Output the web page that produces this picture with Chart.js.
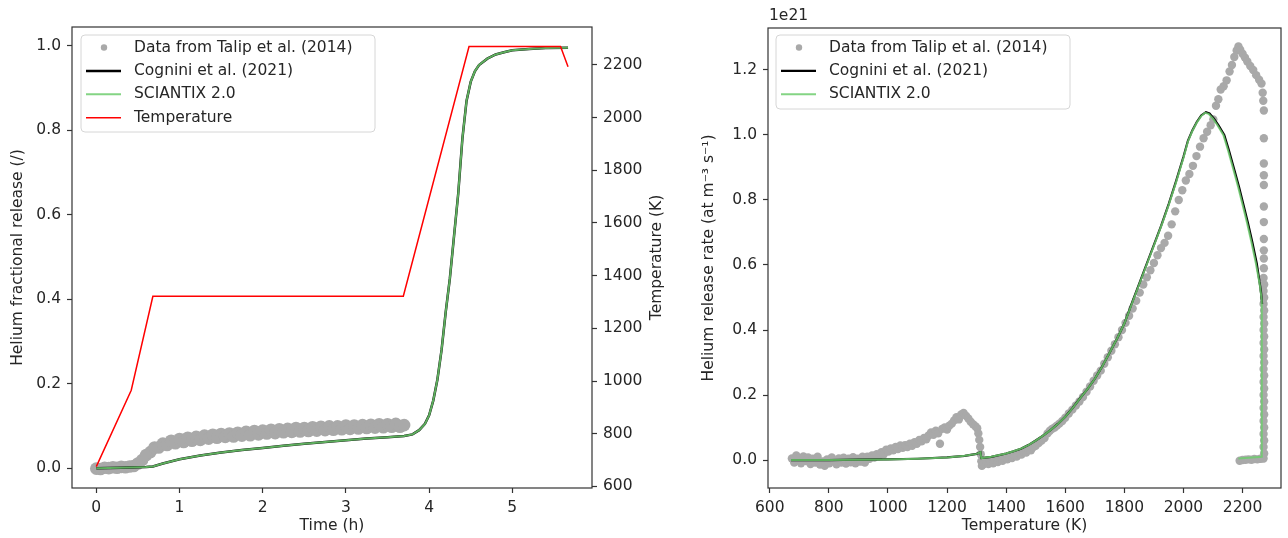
<!DOCTYPE html>
<html>
<head>
<meta charset="utf-8">
<script src="https://cdn.jsdelivr.net/npm/chart.js@4.4.1/dist/chart.umd.min.js"></script>
<style>
  html, body { margin: 0; padding: 0; background: #fff; }
  #wrap { position: relative; width: 1288px; height: 538px; }
  canvas { position: absolute; top: 0; }
  #left { left: 0; width: 690px; height: 538px; }
  #right { left: 690px; width: 598px; height: 538px; }
</style>
</head>
<body>
<div id="wrap">
  <canvas id="left" width="690" height="538"></canvas>
  <canvas id="right" width="598" height="538"></canvas>
</div>
<script>
// ---- left panel: fractional release vs time ----
const timeTicks = [0, 1, 2, 3, 4, 5];
const fracTicks = [0, 0.2, 0.4, 0.6, 0.8, 1.0];
const tempTicks = [600, 800, 1000, 1200, 1400, 1600, 1800, 2000, 2200];

const talipTime = [
  0.00, 0.05, 0.10, 0.15, 0.20, 0.25, 0.30, 0.35, 0.40, 0.45,
  0.50, 0.55, 0.60, 0.65, 0.70, 0.75, 0.80, 0.85, 0.90, 0.95,
  1.00, 1.05, 1.10, 1.15, 1.20, 1.25, 1.30, 1.35, 1.40, 1.45,
  1.50, 1.55, 1.60, 1.65, 1.70, 1.75, 1.80, 1.85, 1.90, 1.95,
  2.00, 2.05, 2.10, 2.15, 2.20, 2.25, 2.30, 2.35, 2.40, 2.45,
  2.50, 2.55, 2.60, 2.65, 2.70, 2.75, 2.80, 2.85, 2.90, 2.95,
  3.00, 3.05, 3.10, 3.15, 3.20, 3.25, 3.30, 3.35, 3.40, 3.45,
  3.50, 3.55, 3.60, 3.65, 3.70
];
const talipFrac = [
  -0.001, -0.002, 0.001, 0.000, 0.002, 0.001, 0.003, 0.002, 0.004, 0.005,
  0.011, 0.019, 0.031, 0.038, 0.049, 0.049, 0.058, 0.055, 0.065, 0.059,
  0.069, 0.062, 0.072, 0.065, 0.074, 0.067, 0.077, 0.070, 0.079, 0.072,
  0.081, 0.074, 0.082, 0.075, 0.084, 0.077, 0.086, 0.078, 0.088, 0.080,
  0.089, 0.082, 0.091, 0.083, 0.092, 0.085, 0.093, 0.086, 0.095, 0.087,
  0.095, 0.088, 0.097, 0.089, 0.098, 0.090, 0.099, 0.091, 0.099, 0.092,
  0.101, 0.093, 0.101, 0.094, 0.102, 0.095, 0.103, 0.096, 0.104, 0.097,
  0.104, 0.098, 0.105, 0.098, 0.102
];

const modelTime = [
  0, 0.3, 0.6, 0.68, 0.8, 1.0, 1.25, 1.5, 1.75, 2.0, 2.25, 2.5, 2.75, 3.0,
  3.25, 3.5, 3.7, 3.8, 3.88, 3.95, 4.0, 4.05, 4.1, 4.15, 4.2, 4.25, 4.3,
  4.35, 4.4, 4.45, 4.5, 4.55, 4.6, 4.7, 4.8, 4.9, 5.0, 5.2, 5.4, 5.67
];
const cogniniFrac = [
  0, 0.001, 0.003, 0.004, 0.011, 0.021, 0.030, 0.037, 0.043, 0.048, 0.053, 0.058, 0.062, 0.066,
  0.070, 0.073, 0.076, 0.080, 0.090, 0.105, 0.125, 0.160, 0.210, 0.280, 0.370, 0.450, 0.550,
  0.650, 0.780, 0.870, 0.915, 0.940, 0.955, 0.970, 0.980, 0.985, 0.990, 0.993, 0.995, 0.996
];
const sciantixFrac = [
  0, 0.001, 0.003, 0.004, 0.011, 0.021, 0.030, 0.037, 0.043, 0.048, 0.053, 0.058, 0.062, 0.066,
  0.070, 0.073, 0.076, 0.080, 0.090, 0.105, 0.125, 0.160, 0.210, 0.280, 0.370, 0.450, 0.550,
  0.650, 0.780, 0.870, 0.915, 0.940, 0.955, 0.970, 0.980, 0.985, 0.990, 0.993, 0.995, 0.996
];

const tempTime = [0, 0.42, 0.68, 3.69, 4.48, 5.58, 5.67];
const tempK = [675, 965, 1322, 1322, 2270, 2270, 2193];

// ---- right panel: release rate vs temperature (units of 1e21) ----
const rateTempTicks = [600, 800, 1000, 1200, 1400, 1600, 1800, 2000, 2200];
const rateTicks = [0, 0.2, 0.4, 0.6, 0.8, 1.0, 1.2];

const talipTK = [
  675, 683, 690, 698, 706, 714, 722, 730, 738, 746, 754, 762, 770, 778, 786, 794,
  802, 810, 818, 826, 834, 842, 850, 858, 866, 874, 882, 890, 898, 906, 914, 922,
  930, 938, 946, 954, 962, 970, 978, 986, 994, 1002, 1010, 1018, 1026, 1034, 1042, 1050,
  1058, 1066, 1074, 1082, 1090, 1098, 1106, 1114, 1122, 1130, 1138, 1146, 1154, 1162, 1170, 1176,
  1184, 1192, 1200, 1208, 1216, 1224, 1232, 1240, 1248, 1256, 1264, 1272, 1280, 1288, 1296, 1302,
  1306, 1309, 1312, 1314, 1316, 1318, 1324, 1332, 1340, 1348, 1356, 1364, 1372, 1380, 1388, 1396,
  1404, 1412, 1420, 1428, 1436, 1444, 1452, 1460, 1468, 1476, 1484, 1492, 1500, 1510, 1520, 1530,
  1540, 1548, 1556, 1564, 1572, 1580, 1590, 1600, 1612, 1624, 1636, 1648, 1660, 1672, 1684, 1696,
  1708, 1720, 1732, 1744, 1756, 1768, 1780, 1792, 1804, 1816, 1828, 1840, 1852, 1864, 1876, 1888,
  1900, 1912, 1924, 1936, 1948, 1960, 1972, 1984, 1996, 2008, 2020, 2032, 2044, 2056, 2068, 2080,
  2092, 2101, 2110, 2118, 2126, 2136, 2146, 2156, 2164, 2172, 2180, 2186, 2192, 2200, 2208, 2216,
  2226, 2236, 2246, 2256, 2264, 2268, 2270,
  2272, 2272, 2272, 2272, 2272, 2272, 2272, 2272, 2272, 2272, 2272,
  2271, 2273, 2271, 2273, 2271, 2273, 2271, 2273, 2271, 2273, 2271, 2273, 2271, 2273, 2271, 2273,
  2271, 2273, 2271, 2273, 2271, 2273, 2271, 2273, 2271, 2273, 2271, 2273, 2271,
  2190, 2200, 2210, 2220, 2230, 2240, 2250, 2260, 2268
];
const talipRate = [
  0.005, -0.008, 0.014, 0.002, -0.010, 0.011, -0.003, 0.008, -0.012, 0.004, -0.008, 0.010, -0.014, -0.004, -0.018, 0.002,
  -0.010, 0.008, -0.004, -0.013, 0.005, -0.008, 0.007, -0.011, 0.004, -0.007, 0.009, -0.010, 0.004, -0.005, 0.010, -0.008,
  0.010, 0.004, 0.014, 0.008, 0.018, 0.012, 0.024, 0.018, 0.032, 0.026, 0.036, 0.030, 0.040, 0.034, 0.045, 0.038,
  0.046, 0.040, 0.050, 0.044, 0.055, 0.050, 0.062, 0.058, 0.068, 0.064, 0.076, 0.085, 0.078, 0.090, 0.082, 0.050,
  0.096, 0.100, 0.094, 0.106, 0.112, 0.122, 0.132, 0.125, 0.140, 0.145, 0.136, 0.128, 0.118, 0.110, 0.104, 0.098,
  0.082, 0.062, 0.040, 0.018, -0.004, -0.018, -0.012, -0.006, -0.012, -0.004, -0.010, 0.000, -0.006, 0.003, -0.002, 0.006,
  0.002, 0.010, 0.006, 0.014, 0.011, 0.020, 0.017, 0.026, 0.023, 0.032, 0.030, 0.040, 0.044, 0.052, 0.060, 0.068,
  0.082, 0.090, 0.096, 0.100, 0.106, 0.112, 0.120, 0.130, 0.143, 0.155, 0.168, 0.180, 0.194, 0.210, 0.226, 0.244,
  0.260, 0.275, 0.296, 0.316, 0.336, 0.356, 0.378, 0.400, 0.422, 0.444, 0.466, 0.490, 0.515, 0.540, 0.562, 0.584,
  0.606, 0.630, 0.652, 0.668, 0.690, 0.725, 0.765, 0.800, 0.830, 0.860, 0.880, 0.905, 0.935, 0.964, 0.990, 1.010,
  1.030, 1.048, 1.090, 1.110, 1.140, 1.150, 1.168, 1.195, 1.215, 1.240, 1.260, 1.272, 1.262, 1.250, 1.238, 1.226,
  1.212, 1.200, 1.184, 1.170, 1.158, 1.130, 1.105,
  1.075, 0.990, 0.912, 0.876, 0.846, 0.780, 0.732, 0.680, 0.645, 0.620, 0.590,
  0.560, 0.540, 0.520, 0.500, 0.480, 0.460, 0.440, 0.420, 0.400, 0.380, 0.360, 0.340, 0.320, 0.300, 0.280, 0.260,
  0.240, 0.220, 0.200, 0.180, 0.160, 0.140, 0.120, 0.100, 0.080, 0.060, 0.040, 0.020, 0.005,
  -0.002, 0.000, 0.001, 0.002, 0.001, 0.003, 0.002, 0.004, 0.005
];

const cogniniTK = [
  672, 800, 900, 1000, 1100, 1200, 1260, 1300, 1313, 1316, 1350, 1400, 1425, 1450, 1475, 1500,
  1525, 1550, 1575, 1600, 1625, 1650, 1675, 1700, 1725, 1750, 1775, 1800, 1825, 1850, 1875, 1900,
  1925, 1950, 1975, 2000, 2015, 2030, 2045, 2060, 2076, 2088, 2103, 2118, 2138, 2153, 2173, 2188,
  2203, 2218, 2233, 2248, 2262, 2266
];
const cogniniRate = [
  0.000, 0.000, 0.001, 0.002, 0.004, 0.008, 0.013, 0.019, 0.024, 0.006, 0.010, 0.020, 0.027, 0.035, 0.046, 0.060,
  0.075, 0.092, 0.111, 0.133, 0.160, 0.190, 0.218, 0.250, 0.288, 0.330, 0.373, 0.420, 0.482, 0.542, 0.602, 0.662,
  0.722, 0.787, 0.858, 0.933, 0.982, 1.014, 1.040, 1.060, 1.070, 1.066, 1.050, 1.030, 1.000, 0.955, 0.890, 0.840,
  0.785, 0.730, 0.670, 0.605, 0.520, 0.480
];
const sciantixTK = [
  672, 800, 900, 1000, 1100, 1200, 1260, 1300, 1313, 1316, 1350, 1400, 1425, 1450, 1475, 1500,
  1525, 1550, 1575, 1600, 1625, 1650, 1675, 1700, 1725, 1750, 1775, 1800, 1825, 1850, 1875, 1900,
  1925, 1950, 1975, 2000, 2015, 2030, 2045, 2060, 2073, 2085, 2100, 2115, 2135, 2150, 2170, 2185,
  2200, 2215, 2230, 2245, 2259, 2265, 2265, 2186
];
const sciantixRate = [
  0.000, 0.000, 0.001, 0.002, 0.004, 0.008, 0.013, 0.019, 0.024, 0.006, 0.010, 0.020, 0.027, 0.035, 0.046, 0.060,
  0.075, 0.092, 0.111, 0.133, 0.160, 0.190, 0.218, 0.250, 0.288, 0.330, 0.373, 0.420, 0.480, 0.540, 0.600, 0.660,
  0.720, 0.785, 0.855, 0.930, 0.980, 1.012, 1.038, 1.058, 1.068, 1.065, 1.050, 1.030, 1.000, 0.955, 0.890, 0.840,
  0.785, 0.730, 0.670, 0.605, 0.535, 0.490, 0.010, 0.005
];

const GRAY = '#a9a9a9';
const GREEN = 'rgba(110, 205, 110, 0.85)';
const INK = '#262626';

Chart.defaults.font.family = '"DejaVu Sans", sans-serif';
Chart.defaults.font.size = 15.5;
Chart.defaults.color = INK;
Chart.defaults.animation = false;

const pts = (xs, ys) => xs.map((x, i) => ({ x: x, y: ys[i] }));

// frame, in-axes legend and the extra texts matplotlib puts around the axes
const deco = {
  id: 'deco',
  afterDraw(chart, args, o) {
    const ctx = chart.ctx, a = chart.chartArea;
    ctx.save();
    ctx.strokeStyle = '#333';
    ctx.lineWidth = 1.2;
    ctx.strokeRect(a.left, a.top, a.right - a.left, a.bottom - a.top);

    const L = o.legend;
    ctx.beginPath();
    ctx.roundRect(L.x, L.y, L.w, L.h, 4);
    ctx.fillStyle = 'rgba(255,255,255,0.8)';
    ctx.fill();
    ctx.strokeStyle = '#d6d6d6';
    ctx.lineWidth = 1;
    ctx.stroke();
    ctx.font = '15.5px "DejaVu Sans"';
    ctx.textBaseline = 'middle';
    chart.data.datasets.forEach((d, i) => {
      const y = L.y + 12.5 + i * 23.4;
      if (d.showLine) {
        ctx.strokeStyle = d.borderColor;
        ctx.lineWidth = d.borderWidth;
        ctx.beginPath();
        ctx.moveTo(L.x + 5, y);
        ctx.lineTo(L.x + 40, y);
        ctx.stroke();
      } else {
        ctx.fillStyle = GRAY;
        ctx.beginPath();
        ctx.arc(L.x + 23, y, 3.2, 0, Math.PI * 2);
        ctx.fill();
      }
      ctx.fillStyle = INK;
      ctx.textAlign = 'left';
      ctx.fillText(d.label, L.x + 53, y);
    });

    (o.texts || []).forEach(t => {
      ctx.save();
      ctx.translate(t.x, t.y === 'mid' ? (a.top + a.bottom) / 2 : t.y);
      ctx.rotate(t.rot || 0);
      ctx.fillStyle = INK;
      ctx.textAlign = t.align || 'center';
      ctx.textBaseline = 'middle';
      ctx.fillText(t.text, 0, 0);
      ctx.restore();
    });
    ctx.restore();
  }
};

function axis(min, max, ticks, fmt, pos, width, title, titlePad) {
  const ax = {
    type: 'linear',
    position: pos,
    min: min,
    max: max,
    grid: { display: true, drawOnChartArea: false, drawTicks: true, tickLength: 5, tickColor: '#333', tickWidth: 1.2 },
    border: { display: false },
    ticks: { padding: 6, color: INK, callback: fmt, autoSkip: false, maxRotation: 0 },
    afterBuildTicks: s => { s.ticks = ticks.map(v => ({ value: v })); },
    title: { display: !!title, text: title, color: INK, padding: titlePad }
  };
  if (pos === 'bottom') ax.afterFit = s => { s.height = width; };
  else ax.afterFit = s => { s.width = width; };
  return ax;
}

const f1 = v => v.toFixed(1);
const f0 = v => String(Math.round(v));

new Chart(document.getElementById('left'), {
  type: 'scatter',
  data: {
    datasets: [
      { label: 'Data from Talip et al. (2014)', data: pts(talipTime, talipFrac), backgroundColor: GRAY,
        borderWidth: 0, pointRadius: 6.3, order: 4, yAxisID: 'y' },
      { label: 'Cognini et al. (2021)', data: pts(modelTime, cogniniFrac), showLine: true, borderColor: '#000',
        borderWidth: 2.5, pointRadius: 0, order: 3, yAxisID: 'y' },
      { label: 'SCIANTIX 2.0', data: pts(modelTime, sciantixFrac), showLine: true, borderColor: GREEN,
        borderWidth: 2, pointRadius: 0, order: 2, yAxisID: 'y' },
      { label: 'Temperature', data: pts(tempTime, tempK), showLine: true, borderColor: '#ff0000',
        borderWidth: 1.5, pointRadius: 0, order: 1, yAxisID: 'y2' }
    ]
  },
  options: {
    responsive: false,
    devicePixelRatio: 1,
    layout: { padding: { top: 27, right: 0, bottom: 0, left: 0 } },
    plugins: {
      legend: { display: false },
      tooltip: { enabled: false },
      deco: {
        legend: { x: 81, y: 35, w: 294, h: 97 },
        texts: [{ text: 'Temperature (K)', x: 657, y: 'mid', rot: -Math.PI / 2 }]
      }
    },
    scales: {
      x: axis(-0.292, 5.958, timeTicks, f0, 'bottom', 50, 'Time (h)', { top: 0, bottom: 3 }),
      y: axis(-0.047, 1.045, fracTicks, f1, 'left', 72, 'Helium fractional release (/)', { top: 9, bottom: 0 }),
      y2: axis(594, 2344, tempTicks, f0, 'right', 98, '', 0)
    }
  },
  plugins: [deco]
});

new Chart(document.getElementById('right'), {
  type: 'scatter',
  data: {
    datasets: [
      { label: 'Data from Talip et al. (2014)', data: pts(talipTK, talipRate), backgroundColor: GRAY,
        borderWidth: 0, pointRadius: 4.2, order: 3 },
      { label: 'Cognini et al. (2021)', data: pts(cogniniTK, cogniniRate), showLine: true, borderColor: '#000',
        borderWidth: 2.2, pointRadius: 0, order: 2 },
      { label: 'SCIANTIX 2.0', data: pts(sciantixTK, sciantixRate), showLine: true, borderColor: GREEN,
        borderWidth: 2, pointRadius: 0, order: 1 }
    ]
  },
  options: {
    responsive: false,
    devicePixelRatio: 1,
    layout: { padding: { top: 28, right: 7, bottom: 0, left: 0 } },
    plugins: {
      legend: { display: false },
      tooltip: { enabled: false },
      deco: {
        legend: { x: 86, y: 35, w: 294, h: 74 },
        texts: [{ text: '1e21', x: 79, y: 16, align: 'left' }]
      }
    },
    scales: {
      x: axis(594.2, 2330, rateTempTicks, f0, 'bottom', 50, 'Temperature (K)', { top: 0, bottom: 3 }),
      y: axis(-0.086, 1.329, rateTicks, f1, 'left', 78, 'Helium release rate (at m\u207B\u00B3 s\u207B\u00B9)', { top: 10, bottom: 0 })
    }
  },
  plugins: [deco]
});
</script>
</body>
</html>
